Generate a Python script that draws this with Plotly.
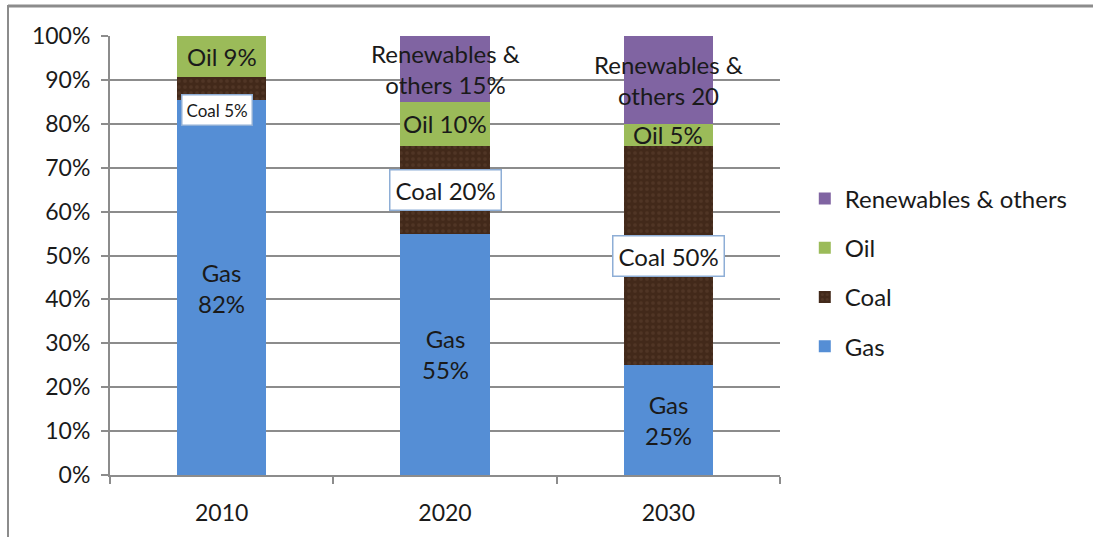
import plotly.graph_objects as go

years = ["2010", "2020", "2030"]
gas = [82, 55, 25]
coal = [5, 20, 50]
oil = [9, 10, 5]
renew = [0, 15, 20]

gas_labels = ["Gas<br>82%", "Gas<br>55%", "Gas<br>25%"]
coal_labels = ["Coal 5%", "Coal 20%", "Coal 50%"]
oil_labels = ["Oil 9%", "Oil 10%", "Oil 5%"]
renew_labels = ["", "Renewables &<br>others 15%", "Renewables &<br>others 20"]

FONT = "Lato"
GRID = "#8c8c8c"
TXT = "#1a1a1a"

fig = go.Figure()
series = [
    ("Gas", gas, dict(color="#558ed5"), 4),
    ("Coal", coal, dict(color="#42291a",
                        pattern=dict(shape=".", fgcolor="#5e4230", bgcolor="#42291a", size=6, solidity=0.3)), 3),
    ("Oil", oil, dict(color="#9bbb59"), 2),
    ("Renewables & others", renew, dict(color="#8064a2"), 1),
]
for name, vals, marker, rank in series:
    fig.add_trace(go.Bar(x=years, y=vals, name=name, marker=dict(line=dict(width=0), **marker),
                         width=0.4, legendgroup=name, legendrank=rank))

fig.update_layout(barmode="stack", barnorm="percent")

# percentages & label positions (annotations use category index)
tot = [g + c + o + r for g, c, o, r in zip(gas, coal, oil, renew)]
annos = []
LS = 24
for i, y in enumerate(years):
    t = tot[i]
    g = gas[i] / t * 100
    c = coal[i] / t * 100
    o = oil[i] / t * 100
    r = renew[i] / t * 100
    annos.append(dict(x=i, y=g / 2, text=gas_labels[i], showarrow=False,
                      font=dict(size=LS, color=TXT, family=FONT)))
    if i == 0:
        annos.append(dict(x=i, y=g, yanchor="top", yshift=6, xshift=-5, text=coal_labels[i], showarrow=False,
                          font=dict(size=17, color=TXT, family=FONT), bgcolor="white",
                          bordercolor="#8eaed6", borderwidth=1.5, borderpad=4))
    else:
        annos.append(dict(x=i, y=g + c / 2, text=coal_labels[i], showarrow=False,
                          font=dict(size=LS, color=TXT, family=FONT), bgcolor="white",
                          bordercolor="#8eaed6", borderwidth=1.5, borderpad=5))
    annos.append(dict(x=i, y=g + c + o / 2, text=oil_labels[i], showarrow=False,
                      font=dict(size=LS, color=TXT, family=FONT)))
    if renew_labels[i]:
        annos.append(dict(x=i, y=g + c + o + r / 2, text=renew_labels[i], showarrow=False,
                          font=dict(size=LS, color=TXT, family=FONT)))

fig.update_layout(
    width=1093, height=537,
    margin=dict(l=110, r=313, t=36, b=62, autoexpand=False),
    paper_bgcolor="white", plot_bgcolor="white",
    font=dict(family=FONT, size=22, color=TXT),
    annotations=annos,
    showlegend=True,
    legend=dict(x=1.037, y=0.68, xanchor="left", yanchor="top",
                traceorder="grouped", tracegroupgap=15,
                font=dict(size=24, family=FONT, color=TXT),
                itemwidth=30, bgcolor="rgba(0,0,0,0)"),
    xaxis=dict(type="category", range=[-0.5, len(years) - 0.5], showline=True, linecolor=GRID, linewidth=2,
               ticks="outside", tickson="boundaries",
               ticklen=7, tickwidth=2, tickcolor=GRID, showgrid=False, tickangle=0, automargin=False,
               tickfont=dict(size=23, family=FONT), ticklabelstandoff=16),
    yaxis=dict(range=[0, 100], dtick=10, ticksuffix="%", showline=True, linecolor=GRID, linewidth=2,
               ticks="outside", ticklen=7, tickwidth=2, tickcolor=GRID, automargin=False,
               showgrid=True, gridcolor=GRID, gridwidth=2, zeroline=False,
               tickfont=dict(size=23, family=FONT), ticklabelstandoff=6),
    shapes=[
        dict(type="line", xref="paper", yref="paper", x0=(8 - 110) / 670, x1=(1093 - 110) / 670,
             y0=(475 - 6) / 439, y1=(475 - 6) / 439, line=dict(color="#8c8c8c", width=3)),
        dict(type="line", xref="paper", yref="paper", x0=(8 - 110) / 670, x1=(8 - 110) / 670,
             y0=(475 - 5) / 439, y1=(475 - 540) / 439, line=dict(color="#8c8c8c", width=2)),
    ],
)

fig.write_html("out.html")
